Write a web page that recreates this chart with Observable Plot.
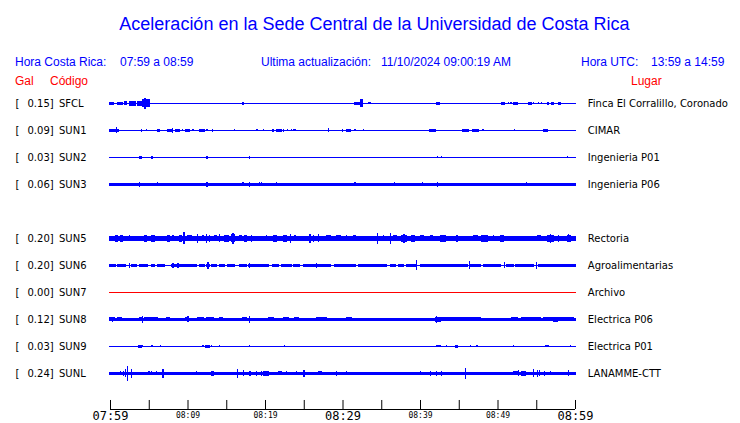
<!DOCTYPE html>
<html><head><meta charset="utf-8">
<script src="https://cdn.jsdelivr.net/npm/d3@7"></script>
<script src="https://cdn.jsdelivr.net/npm/@observablehq/plot@0.6"></script>
<style>
body{margin:0;background:#fff;}
#hdr{position:relative;width:740px;height:88px;font-family:"Liberation Sans",Arial,sans-serif;}
#hdr div{position:absolute;white-space:nowrap;}
.t{font-size:18px;line-height:20px;color:#0000ff;top:14px;left:0;width:749px;text-align:center}
.h{font-size:12px;line-height:14px;color:#0000ff;top:55px}
.r{font-size:12px;line-height:14px;color:#ff0000;top:74px}
#chart svg{display:block}
</style></head>
<body>
<div id="hdr">
  <div class="t">Aceleración en la Sede Central de la Universidad de Costa Rica</div>
  <div class="h" style="left:15px">Hora Costa Rica:</div>
  <div class="h" style="left:120px">07:59 a 08:59</div>
  <div class="h" style="left:261px">Ultima actualización:</div>
  <div class="h" style="left:381px">11/10/2024 09:00:19 AM</div>
  <div class="h" style="left:581px">Hora UTC:</div>
  <div class="h" style="left:651px">13:59 a 14:59</div>
  <div class="r" style="left:15px">Gal</div>
  <div class="r" style="left:50px">Código</div>
  <div class="r" style="left:631px">Lugar</div>
</div>
<div id="chart"></div>
<script>
// Stations
const codes = ["SFCL","SUN1","SUN2","SUN3","SUN5","SUN6","SUN7","SUN8","SUN9","SUNL"];
const rows = [0,1,2,3,5,6,7,8,9,10];
const peakGal = [0.15,0.09,0.03,0.06,0.20,0.20,0.00,0.12,0.03,0.24];
const places = ["Finca El Corralillo, Coronado","CIMAR","Ingenieria P01","Ingenieria P06","Rectoria","Agroalimentarias","Archivo","Electrica P06","Electrica P01","LANAMME-CTT"];
const traceColors = ["#0000ff","#0000ff","#0000ff","#0000ff","#0000ff","#0000ff","#ff0000","#0000ff","#0000ff","#0000ff"];
// background (noise) half-amplitude of each trace, relative units
const baseAmp = [0.5,0.5,0.5,1.7,2.2,0.8,0.6,1.3,0.6,1.5];

// bursts: [start minute after 07:59, end minute, half-amplitude]
const burstsSFCL = [[0,0.45,1.3],[1.0,1.14,1.3],[1.23,1.66,1.3],[1.87,2.09,2],[2.52,3.3,2.3],[3.6,4.03,2.7],[4.24,5.02,4],[4.5,4.6,5.3],[17.17,17.17,1.3],[17.95,17.95,0.7],
[31.62,32.27,1.7],[32.35,32.61,4],[33.34,33.65,1],[36.8,36.8,0.7],[37.0,37.0,0.7],[42.18,42.44,1.3],[44.21,44.21,0.7],[50.5,50.89,1.3],[51.45,51.45,1],[51.75,51.75,1],[52.09,52.61,1.3],[53.26,53.26,0.7],[54.03,54.34,1.3],[54.68,54.68,1],[55.33,55.33,1],[55.67,55.67,1],[56.4,56.62,1.3],[56.92,57.27,1.3],[57.91,58.13,1.3],[59.42,59.42,0.7]];
const burstsSUN1 = [[0,0.58,1.3],[0.58,1.14,1.3],[0.88,0.88,3],[2.52,2.52,0.7],[4.11,4.11,1.3],[4.72,4.72,1],[5.11,5.11,0.7],[6.18,6.31,1.3],[7.48,7.91,1.3],[8.04,8.04,2.3],[8.47,8.9,1.3],[9.33,9.33,1],[9.76,10.28,1.7],[10.71,10.71,1],[11.57,12.22,1.3],[12.52,12.52,1],[13.21,13.21,1.3],[16.1,16.1,1],[16.66,16.66,0.7],[17.09,17.09,0.7],[18.73,18.73,0.7],[18.98,18.98,1],[19.85,19.85,1],[20.97,21.14,1.3],[21.48,22.13,1.3],[22.35,22.35,1.3],[22.86,22.86,1],[23.42,23.42,1],[23.64,23.64,1],[23.86,23.86,1],[28.17,28.17,2],[29.46,29.46,0.7],[29.98,29.98,1.7],[30.54,30.97,1.7],
[31.62,31.62,1],[32.7,32.7,1],[33.47,33.47,0.7],[35.28,35.28,0.7],[36.49,36.49,0.7],[38.0,38.0,0.7],[39.38,39.38,0.7],[40.67,40.67,0.7],[41.23,41.96,1.3],[43.26,43.26,0.7],[44.55,44.55,0.7],[45.5,46.27,1.3],[46.84,47.57,1.7],[48.13,48.13,1],[48.56,48.56,0.7],[49.59,49.59,0.7],[50.46,50.46,0.7],[51.02,51.02,0.7],[51.58,51.58,0.7],[52.18,52.18,1],[53.3,53.3,0.7],[55.89,56.4,1.7],[57.48,57.48,0.7],[58.04,58.04,0.7],[58.99,58.99,0.7]];
const burstsSUN2 = [[3.81,4.03,1.3],[4.24,4.24,0.7],[5.41,5.41,1.3],[12.52,12.52,1.3],[13.08,13.08,0.7],[17.95,17.95,1.3],[32.4,32.4,0.7],[42.27,42.27,1],[42.74,42.74,1],[58.99,58.99,1]];
const burstsSUN3 = [[3.81,3.81,2.7],[6.18,6.18,2],[12.52,12.52,2.3],[17.17,17.17,2],[17.95,17.95,2.7],[19.24,19.24,2],[19.55,19.55,2],[21.48,21.48,2],[31.62,31.62,2],[36.66,36.66,2],[40.37,40.37,2],[42.27,42.27,2.7],[53.73,53.73,2]];
const burstsSUN5 = [[0,0.36,2.7],[0.71,1.01,3.3],[1.31,1.66,3.3],[2.52,2.52,3],[3.17,3.81,2.7],[4.46,4.67,3.3],[5.32,5.75,3.3],[6.53,6.83,2.7],[7.39,7.69,3.3],[8.12,8.12,3],[8.98,9.2,3.3],[9.55,9.55,6],[10.06,10.49,3],[11.27,11.27,4.3],[12.0,12.0,3],[12.43,12.43,4.7],[12.86,12.86,3.3],[13.51,13.73,3],[14.16,14.16,4],[14.8,15.23,3.3],[15.67,16.1,4],[15.85,15.9,5.3],[16.74,16.96,3],[17.39,17.61,3.3],[18.25,18.25,3.3],[18.9,18.9,2.7],[20.19,20.19,3],[21.05,21.48,3.3],[22.35,22.78,3.3],[23.3,23.3,4.3],[23.86,23.86,3],[24.72,24.72,2.7],[25.8,25.8,4.7],[26.23,26.23,3.3],[26.87,26.87,4],[27.95,28.38,3],[29.24,29.67,3],[30.54,30.54,3],
[29.68,30.54,2.7],[31.4,31.62,3],[32.27,32.27,2.7],[32.91,33.21,2.7],[34.51,34.51,5.3],[35.28,35.28,3],[36.15,36.15,5.3],[36.58,37.01,3],[37.65,38.3,3.7],[37.9,37.95,4.7],[38.95,39.25,3.3],[40.02,40.46,3],[41.32,41.66,3],[42.61,43.26,3.3],[44.12,44.12,2.7],[44.77,44.77,3.3],[45.97,45.97,2.7],[46.92,47.35,3],[48.0,48.65,3.3],[49.51,49.51,3],[50.37,50.8,3.3],[51.66,51.66,2.7],[52.96,53.39,2.7],[54.25,54.25,2.7],[55.11,55.54,3],[56.4,57.27,3.3],[56.8,56.85,4.7],[57.91,57.91,3.3],[58.99,59.42,3.3],[59.2,59.2,4]];
const burstsSUN6 = [[0,0.71,1.3],[1.01,2.0,1.3],[2.52,2.52,2.7],[2.73,3.38,1.3],[3.81,4.89,1.3],[5.32,5.75,1.3],[6.18,7.05,1.3],[7.91,10.06,1.3],[8.12,8.12,2.3],[8.77,8.77,2.3],[10.28,11.14,1.3],[11.57,12.22,1.3],[12.43,12.86,1.7],[12.65,12.65,3.3],[13.08,13.73,1.3],[14.16,14.8,1.3],[15.23,16.1,1.3],[16.74,17.61,1.3],[17.82,18.47,1.7],[17.95,17.95,2.3],[18.68,20.41,1.3],[20.97,21.7,1.3],[22.13,23.42,1.3],[23.64,24.5,1.3],[24.93,25.58,1.3],[25.8,26.23,1.3],[26.44,26.87,1.7],[26.65,26.65,2.7],[27.09,28.38,1.3],[29.03,30.32,1.3],[30.54,30.97,1.3],
[29.68,30.76,1.3],[31.19,31.62,1.7],[32.05,32.91,1.3],[33.13,35.71,1.3],[36.15,36.79,1.3],[37.22,37.87,1.3],[38.3,39.38,1.3],[39.59,39.59,5],[40.02,40.67,1.3],[40.89,46.06,1.3],[46.4,46.4,4],[46.58,47.78,1.7],[48.21,50.37,1.3],[50.93,50.93,3],[51.23,52.09,1.7],[52.31,54.68,1.3],[55.03,55.03,3.3],[55.33,60,1.3]];
const burstsSUN7 = [];
const burstsSUN8 = [[0,0.58,2],[0.3,0.3,2.7],[1.01,1.44,2],[3.47,3.47,1.7],[3.81,4.24,2],[4.24,4.24,3.7],[4.46,5.97,2],[6.18,6.18,2],[7.26,7.69,2],[8.55,8.55,1.7],[9.76,9.93,2],[10.06,10.06,3],[11.36,12.0,2],[12.43,13.3,2],[14.16,14.5,2],[16.31,16.31,1.7],[17.17,17.61,2],[17.95,17.95,3.3],[18.9,19.33,1.7],[19.98,19.98,1.7],[20.41,21.05,2],[21.48,21.91,1.7],[22.35,22.99,2],[23.86,24.29,2],[26.66,27.95,2],[30.54,30.97,2],
[30.54,31.19,2],[32.48,33.13,1.7],[33.56,36.58,1.7],[38.52,38.95,1.7],[41.96,42.61,2.7],[42.18,42.18,3.3],[42.61,47.78,2],[50.15,50.8,1.7],[51.88,52.53,2],[53.17,55.54,2],[55.97,59.85,2],[57.27,57.7,2.7]];
const burstsSUN9 = [[1.31,1.31,0.7],[3.38,3.38,0.7],[3.73,4.03,1.3],[4.24,4.24,1],[5.41,5.41,1],[6.48,6.48,1],[12.0,12.0,1],[12.35,12.78,1.3],[13.08,13.08,1],[14.16,14.16,1],[16.66,16.66,0.7],[17.95,17.95,1],[18.68,18.68,0.7],[19.24,19.24,0.7],[22.56,22.56,1],[23.21,23.21,0.7],
[32.48,32.48,0.7],[33.65,33.65,0.7],[37.09,37.09,0.7],[41.53,41.53,0.7],[42.18,42.61,1],[43.47,43.47,1],[44.55,44.85,1.3],[46.49,46.49,1],[47.35,47.35,1],[52.09,52.09,1],[54.9,54.9,0.7],[55.54,55.54,0.7],[56.19,56.62,1],[57.27,57.27,0.7],[58.13,58.13,0.7],[59.42,59.42,1]];
const burstsSUNL = [[0,0.36,1.7],[0.58,1.01,1.7],[1.31,1.31,2],[1.74,1.74,2.7],[2.0,2.0,4],[2.3,2.3,7.3],[2.82,2.82,4.7],[3.17,4.67,1.7],[5.02,5.02,2],[5.32,5.32,2],[6.05,6.05,2],[6.83,6.83,4.7],[7.26,8.98,1.7],[9.85,11.57,1.7],[11.14,11.14,2],[13.08,13.3,2.7],[14.16,15.88,1.7],[16.4,16.4,4.7],[17.26,17.26,3],[17.95,18.12,2.7],[18.9,18.9,2.7],[19.55,19.55,2.7],[19.76,20.41,2.3],[21.7,22.13,2],[22.78,22.78,2],[24.07,24.07,2],[25.02,25.02,3.3],[25.8,26.23,1.7],[26.87,27.3,2],[29.24,29.24,2.3],[29.67,29.67,1.7],[30.54,30.54,2],
[29.68,30.97,1.7],[31.62,31.62,1.7],[32.7,32.7,1.7],[33.99,33.99,1.7],[36.15,36.15,1.7],[37.87,37.87,1.7],[40.02,40.02,2],[41.32,41.32,2.3],[42.18,42.18,2.3],[42.74,42.74,2.7],[45.84,45.84,5.3],[47.78,49.94,1.7],[52.09,52.53,2],[52.74,52.74,3],[53.17,53.6,2.3],[54.68,54.68,4],[55.11,55.11,3.3],[55.41,55.41,3],[56.06,56.06,2.7],[56.84,56.84,2],[59.2,59.2,3]];
const bursts = [burstsSFCL,burstsSUN1,burstsSUN2,burstsSUN3,burstsSUN5,burstsSUN6,burstsSUN7,burstsSUN8,burstsSUN9,burstsSUNL];

// time axis (minutes after 07:59)
const windowMinutes = [0, 60];
const tickTimes = [0,5,10,15,20,25,30,35,40,45,50,55,60];
const majorTicks = [0,30,60];
const majorLabels = ["07:59","08:29","08:59"];
const minorTicks = [10,20,40,50];
const minorLabels = ["08:09","08:19","08:39","08:49"];

const pxPerRow = 27;       // trace gain: relative amplitude units per row
const yTop = -0.567, yAxis = 11.32;
const tickLen = 9 / pxPerRow;

const segs = codes.flatMap((c, i) =>
  [[windowMinutes[0], windowMinutes[1], baseAmp[i]], ...bursts[i]].map(([t0, t1, a]) => ({row: rows[i], t0, t1, a, color: traceColors[i]})));
const stations = codes.map((c, i) => ({code: c, row: rows[i], gal: peakGal[i].toFixed(2) + "]", place: places[i]}));

const chart = Plot.plot({
  width: 740, height: 335,
  marginLeft: 110, marginRight: 165, marginTop: 0, marginBottom: 14,
  x: {domain: windowMinutes, axis: null},
  y: {domain: [yTop, yAxis], reverse: true, axis: null},
  color: {type: "identity"},
  style: {fontFamily: "DejaVu Sans", fontSize: "10px", background: "#fff", color: "#000"},
  marks: [
    Plot.rect(segs, {x1: "t0", x2: "t1", y1: d => d.row - d.a / pxPerRow, y2: d => d.row + d.a / pxPerRow,
      fill: "color", insetLeft: -0.6, insetRight: -0.6, shapeRendering: "crispEdges"}),
    Plot.text(stations, {y: "row", text: () => "[", frameAnchor: "left", dx: -95, textAnchor: "start", fill: "#000"}),
    Plot.text(stations, {y: "row", text: "gal", frameAnchor: "left", dx: -83, textAnchor: "start", fill: "#000"}),
    Plot.text(stations, {y: "row", text: "code", frameAnchor: "left", dx: -51.5, textAnchor: "start", fill: "#000"}),
    Plot.text(stations, {y: "row", text: "place", frameAnchor: "right", dx: 12.3, textAnchor: "start", fill: "#000"}),
    Plot.ruleY([yAxis], {x1: windowMinutes[0], x2: windowMinutes[1], stroke: "#000"}),
    Plot.ruleX(tickTimes, {x: d => d, y1: yAxis, y2: yAxis - tickLen, stroke: "#000"}),
    Plot.text(majorTicks, {x: d => d, text: (d, i) => majorLabels[i], frameAnchor: "bottom", dy: 7, lineAnchor: "middle",
      fontFamily: "DejaVu Sans Mono", fontSize: 12, fill: "#000"}),
    Plot.text(minorTicks, {x: d => d, text: (d, i) => minorLabels[i], frameAnchor: "bottom", dy: 6, lineAnchor: "middle",
      fontFamily: "DejaVu Sans Mono", fontSize: 8, fill: "#000"})
  ]
});
document.getElementById("chart").append(chart);
</script>
</body></html>
